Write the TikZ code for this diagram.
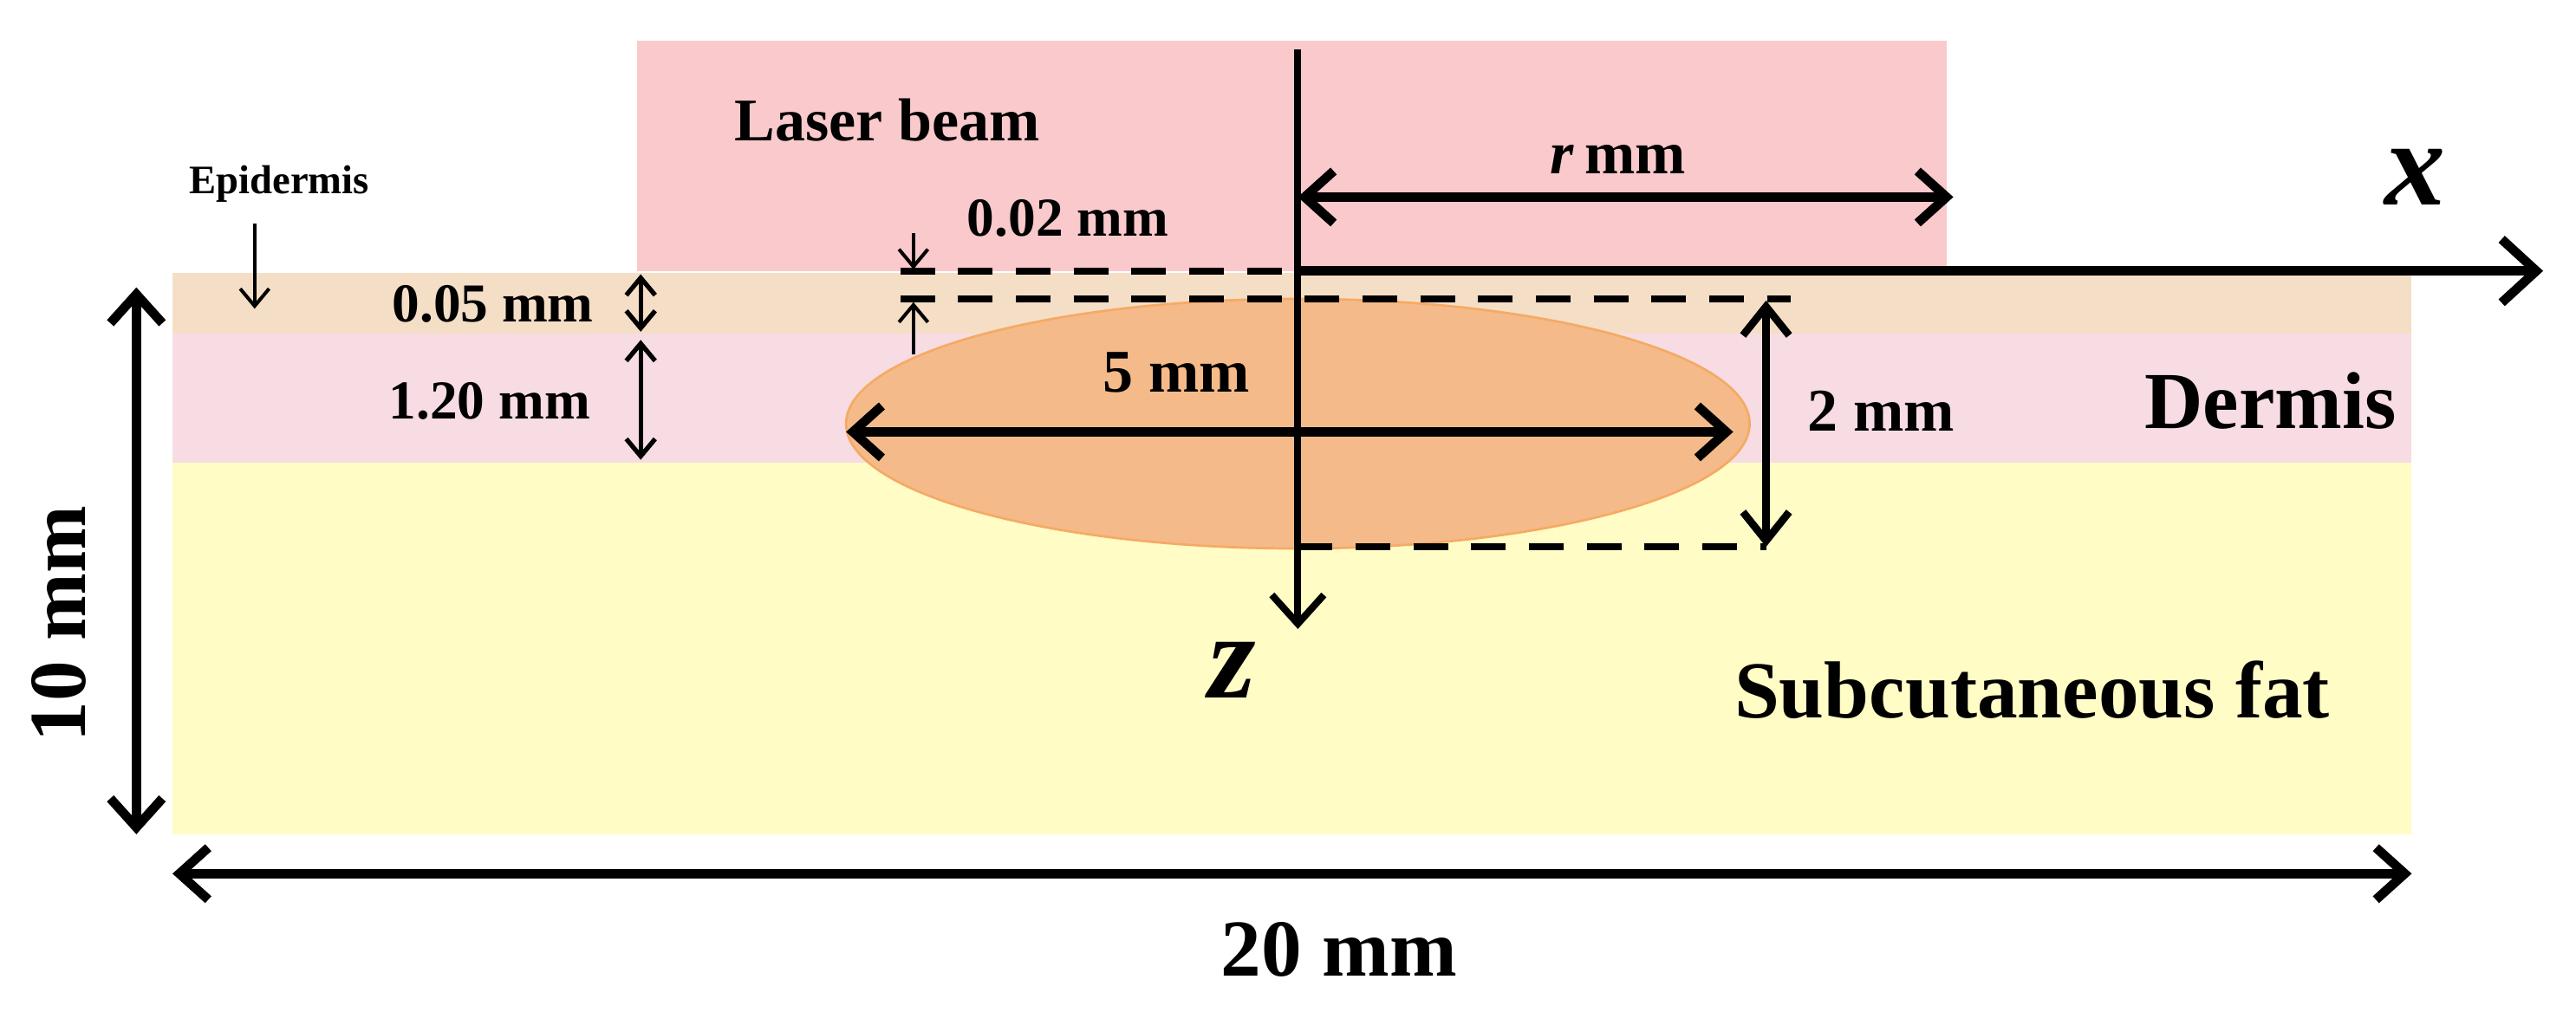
\documentclass[tikz,border=0pt]{standalone}
\usepackage{fontspec}
\setmainfont{Liberation Serif}
\usetikzlibrary{arrows.meta}
\definecolor{laserc}{RGB}{249,201,203}
\definecolor{epic}{RGB}{245,222,198}
\definecolor{dermc}{RGB}{247,220,228}
\definecolor{fatc}{RGB}{255,252,198}
\definecolor{ellc}{RGB}{245,186,138}
\definecolor{elld}{RGB}{245,170,100}
\begin{document}
\begin{tikzpicture}[x=0.01cm,y=-0.01cm,
  ar/.style={line width=1.6pt,{Straight Barb[length=5pt,width=9pt]}-{Straight Barb[length=5pt,width=9pt]}},
  thin ar/.style={line width=0.6pt,-{Straight Barb[length=3pt,width=5pt]}},
  dsh/.style={line width=1.2pt,dash pattern=on 6pt off 4pt},
  lbl/.style={font=\bfseries\fontsize{9.5}{11}\selectfont,inner sep=1pt},
  big/.style={font=\bfseries\fontsize{14}{16}\selectfont}]
\useasboundingbox (0,0) rectangle (1568,616);
\fill[laserc] (388,25) rectangle (1185,165);
\fill[fatc] (105,282) rectangle (1468,508);
\fill[dermc] (105,203) rectangle (1468,282);
\fill[epic] (105,166) rectangle (1468,203);
\fill[ellc,draw=elld] (790,258) ellipse [x radius=275,y radius=76];
\node[lbl,font=\bfseries\fontsize{10.5}{13}\selectfont] (laser) at (540,73) {Laser beam};
\node[lbl,font=\bfseries\fontsize{7}{9}\selectfont] (epi) at (170,112) {Epidermis};
\coordinate (ea) at (155,136); \coordinate (eb) at (155,188);
\draw[thin ar] (ea) -- (eb);
\coordinate (O) at (790,165);
\coordinate (ztop) at (790,30); \coordinate (zend) at (790,383);
\coordinate (xend) at (1548,165);
\draw[line width=1.2pt,-{Straight Barb[length=5pt,width=9pt]}] (ztop) -- (zend);
\draw[line width=1.6pt,-{Straight Barb[length=6pt,width=11pt]}] (O) -- (xend);
\node[font=\bfseries\itshape\fontsize{21}{24}\selectfont] (xl) at (1470,108) {x};
\node[font=\bfseries\itshape\fontsize{21}{24}\selectfont] (zl) at (750,408) {z};
\coordinate (d1a) at (548,165); \coordinate (d2a) at (548,182); \coordinate (d2b) at (1090,182);
\coordinate (d3a) at (790,333); \coordinate (d3b) at (1075,333);
\draw[dsh] (d1a) -- (O);
\draw[dsh] (d2a) -- (d2b);
\draw[dsh] (d3a) -- (d3b);
\coordinate (ra) at (790,120); \coordinate (rb) at (1189,120);
\draw[ar] (ra) -- (rb);
\node[lbl,font=\bfseries\fontsize{10.5}{13}\selectfont] (rl) at (985,97) {\textit{r}\,mm};
\coordinate (fa) at (515,263); \coordinate (fb) at (1055,263);
\draw[ar] (fa) -- (fb);
\node[lbl,font=\bfseries\fontsize{10.5}{13}\selectfont] (fl) at (716,227) {5 mm};
\coordinate (ta) at (1075,183); \coordinate (tb) at (1075,333);
\draw[line width=1.3pt,{Straight Barb[length=5pt,width=8pt]}-{Straight Barb[length=5pt,width=8pt]}] (ta) -- (tb);
\node[lbl,font=\bfseries\fontsize{10.5}{13}\selectfont] (tl) at (1145,250) {2 mm};
\coordinate (pa) at (390,167); \coordinate (pb) at (390,202);
\coordinate (qa) at (390,207); \coordinate (qb) at (390,280);
\draw[line width=0.8pt,{Straight Barb[length=3pt,width=5pt]}-{Straight Barb[length=3pt,width=5pt]}] (pa) -- (pb);
\draw[line width=0.8pt,{Straight Barb[length=3pt,width=5pt]}-{Straight Barb[length=3pt,width=5pt]}] (qa) -- (qb);
\node[lbl] (l05) at (300,185) {0.05 mm};
\node[lbl] (l12) at (298,244) {1.20 mm};
\coordinate (sa) at (556,142); \coordinate (sb) at (556,164);
\coordinate (ua) at (556,216); \coordinate (ub) at (556,184);
\draw[thin ar] (sa) -- (sb);
\draw[thin ar] (ua) -- (ub);
\node[lbl] (l02) at (650,133) {0.02 mm};
\node[big] (derm) at (1382,244) {Dermis};
\node[big] (fat) at (1237,420) {Subcutaneous fat};
\coordinate (ha) at (83,175); \coordinate (hb) at (83,508);
\draw[ar] (ha) -- (hb);
\node[rotate=90,big] (h) at (36,380) {10 mm};
\coordinate (wa) at (105,532); \coordinate (wb) at (1468,532);
\draw[ar] (wa) -- (wb);
\node[big] (w) at (815,578) {20 mm};
\end{tikzpicture}
\end{document}
